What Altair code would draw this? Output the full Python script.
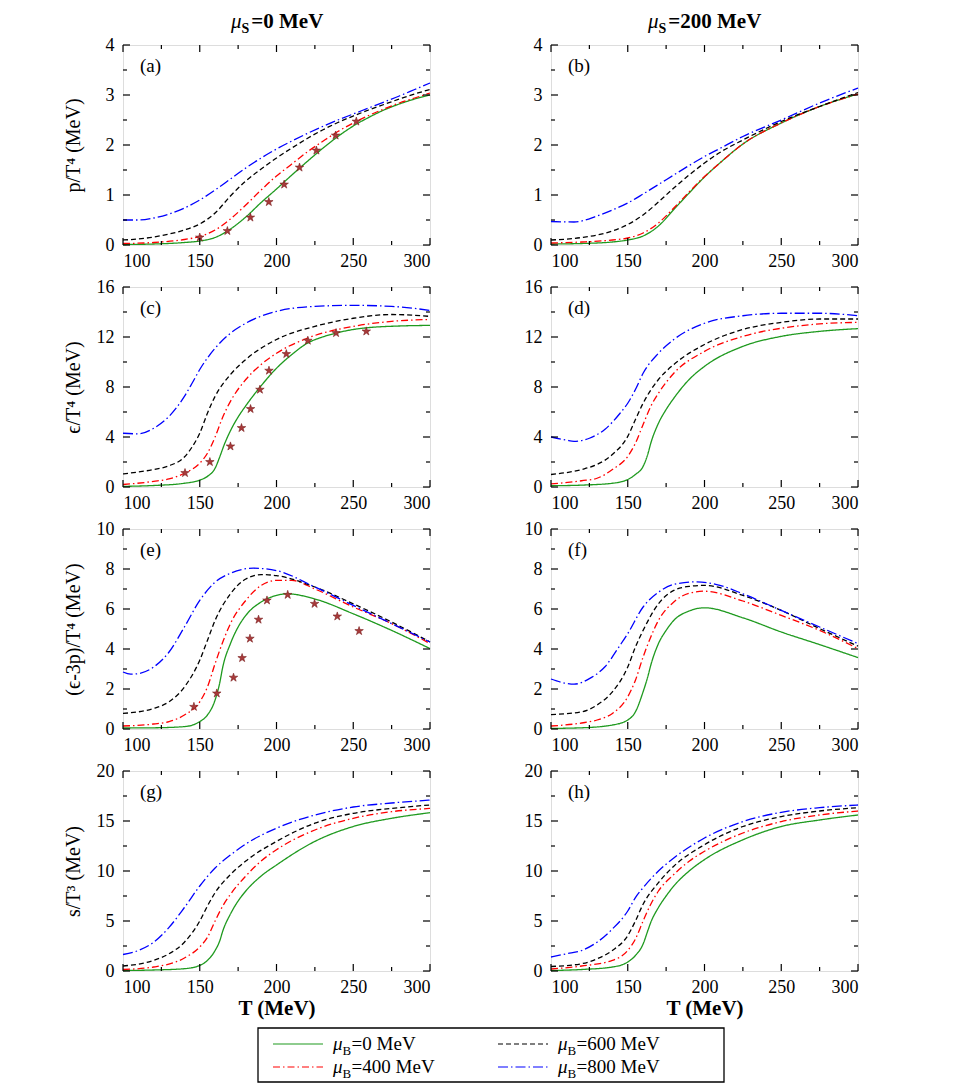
import altair as alt
import pandas as pd

SERIF = "Liberation Serif, Times New Roman, Times, serif"

# ---------------- series definitions ----------------
SERIES = ["0", "400", "600", "800"]           # mu_B values (MeV)
COLORS = ["#1f9a1f", "#ff0000", "#000000", "#0000ff"]
DASHES = [[1, 0], [7, 3, 1.5, 3], [5, 3], [10, 3, 1.5, 3]]
MUS_VALUES = ["0", "200"]                      # mu_S values (MeV)

X_MAJOR = [100, 150, 200, 250, 300]
X_MINOR = [125, 175, 225, 275]

# ---------------- panel (a): p/T^4, mu_S = 0 ----------------
a0_T = [100, 120, 140, 150, 160, 170, 180, 190, 200, 210, 220, 230, 240, 250, 260, 270, 280, 290, 300]
a0_v = [0.01, 0.02, 0.05, 0.08, 0.15, 0.32, 0.56, 0.85, 1.12, 1.40, 1.67, 1.93, 2.17, 2.38, 2.55, 2.70, 2.82, 2.92, 3.00]
a400_T = [100, 120, 140, 150, 160, 170, 180, 190, 200, 210, 220, 230, 240, 250, 260, 270, 280, 290, 300]
a400_v = [0.03, 0.05, 0.11, 0.17, 0.30, 0.52, 0.80, 1.10, 1.38, 1.62, 1.86, 2.07, 2.27, 2.44, 2.59, 2.72, 2.84, 2.94, 3.04]
a600_T = [100, 110, 120, 130, 140, 150, 160, 170, 180, 190, 200, 210, 220, 230, 240, 250, 260, 270, 280, 290, 300]
a600_v = [0.10, 0.12, 0.16, 0.22, 0.30, 0.42, 0.64, 0.98, 1.28, 1.52, 1.74, 1.94, 2.13, 2.30, 2.45, 2.58, 2.70, 2.81, 2.92, 3.02, 3.11]
a800_T = [100, 110, 120, 130, 140, 150, 160, 170, 180, 190, 200, 210, 220, 230, 240, 250, 260, 270, 280, 290, 300]
a800_v = [0.50, 0.50, 0.54, 0.62, 0.74, 0.90, 1.10, 1.32, 1.54, 1.74, 1.92, 2.08, 2.23, 2.37, 2.50, 2.62, 2.74, 2.86, 2.98, 3.11, 3.24]
a_star_T = [150, 168, 183, 195, 205, 215, 226, 238.5, 252]
a_star_v = [0.15, 0.28, 0.55, 0.86, 1.21, 1.55, 1.89, 2.19, 2.47]

# ---------------- panel (b): p/T^4, mu_S = 200 ----------------
b0_T = [100, 120, 140, 150, 160, 170, 180, 190, 200, 210, 225, 250, 275, 300]
b0_v = [0.02, 0.03, 0.06, 0.10, 0.18, 0.38, 0.71, 1.04, 1.36, 1.64, 2.02, 2.44, 2.77, 3.02]
b400_T = [100, 120, 140, 150, 160, 170, 180, 190, 200, 210, 225, 250, 275, 300]
b400_v = [0.04, 0.06, 0.10, 0.14, 0.24, 0.44, 0.74, 1.06, 1.37, 1.64, 2.02, 2.44, 2.77, 3.02]
b600_T = [100, 120, 140, 150, 160, 170, 180, 190, 200, 210, 225, 250, 275, 300]
b600_v = [0.10, 0.15, 0.28, 0.41, 0.60, 0.86, 1.14, 1.40, 1.64, 1.85, 2.10, 2.47, 2.77, 3.05]
b800_T = [100, 115, 130, 140, 150, 160, 170, 180, 190, 200, 210, 225, 250, 275, 300]
b800_v = [0.47, 0.46, 0.58, 0.70, 0.84, 1.02, 1.21, 1.40, 1.59, 1.77, 1.93, 2.17, 2.50, 2.84, 3.14]

# ---------------- panel (c): eps/T^4, mu_S = 0 ----------------
c0_T = [100, 120, 140, 150, 155, 160, 163, 166, 170, 175, 180, 190, 200, 210, 220, 230, 240, 250, 260, 280, 300]
c0_v = [0.05, 0.12, 0.30, 0.55, 0.85, 1.50, 2.40, 3.40, 4.50, 5.60, 6.50, 8.10, 9.50, 10.6, 11.5, 12.0, 12.35, 12.6, 12.75, 12.88, 12.93]
c400_T = [100, 120, 130, 140, 150, 155, 160, 165, 170, 180, 190, 200, 220, 250, 275, 300]
c400_v = [0.20, 0.45, 0.65, 1.10, 1.90, 2.70, 4.00, 5.60, 6.85, 8.60, 9.80, 10.7, 11.9, 12.85, 13.25, 13.4]
c600_T = [100, 110, 120, 130, 140, 145, 150, 155, 160, 170, 180, 200, 225, 250, 275, 300]
c600_v = [1.05, 1.20, 1.40, 1.70, 2.40, 3.20, 4.30, 5.90, 7.25, 9.00, 10.2, 11.8, 12.85, 13.5, 13.8, 13.65]
c800_T = [100, 110, 120, 130, 140, 145, 150, 160, 170, 180, 200, 225, 250, 275, 300]
c800_v = [4.30, 4.25, 4.70, 5.65, 7.25, 8.30, 9.40, 11.1, 12.3, 13.1, 14.05, 14.45, 14.53, 14.45, 14.13]
c_star_T = [140.4, 156.6, 170, 177.2, 183.1, 189.2, 195.1, 206.4, 220.4, 238.8, 258.5]
c_star_v = [1.12, 2.00, 3.25, 4.72, 6.24, 7.79, 9.31, 10.64, 11.71, 12.32, 12.45]

# ---------------- panel (d): eps/T^4, mu_S = 200 ----------------
d0_T = [100, 120, 140, 150, 155, 160, 163, 165, 170, 175, 180, 190, 200, 225, 250, 275, 300]
d0_v = [0.10, 0.15, 0.30, 0.60, 1.00, 1.65, 2.60, 3.50, 5.10, 6.20, 7.10, 8.60, 9.65, 11.25, 12.05, 12.45, 12.67]
d400_T = [100, 120, 130, 140, 150, 155, 160, 165, 170, 180, 200, 225, 250, 275, 300]
d400_v = [0.25, 0.50, 0.70, 1.40, 2.45, 3.50, 5.00, 6.45, 7.50, 9.10, 10.85, 12.05, 12.7, 13.05, 13.17]
d600_T = [100, 120, 130, 140, 150, 155, 160, 170, 180, 200, 225, 250, 275, 300]
d600_v = [1.00, 1.40, 1.80, 2.60, 4.05, 5.40, 6.70, 8.60, 9.80, 11.4, 12.6, 13.17, 13.44, 13.44]
d800_T = [100, 110, 115, 125, 135, 145, 150, 155, 160, 170, 180, 200, 225, 250, 275, 300]
d800_v = [4.00, 3.75, 3.65, 3.90, 4.60, 5.90, 6.70, 7.80, 9.10, 10.7, 11.8, 13.1, 13.7, 13.9, 13.9, 13.7]

# ---------------- panel (e): (eps-3p)/T^4, mu_S = 0 ----------------
e0_T = [100, 120, 140, 150, 155, 160, 163, 165, 170, 175, 180, 190, 200, 207, 225, 250, 275, 300]
e0_v = [0.05, 0.06, 0.12, 0.37, 0.70, 1.45, 2.30, 3.10, 4.27, 5.10, 5.68, 6.35, 6.68, 6.76, 6.50, 5.76, 4.93, 4.02]
e400_T = [100, 120, 130, 140, 150, 155, 160, 165, 170, 180, 190, 200, 210, 225, 250, 275, 300]
e400_v = [0.15, 0.25, 0.37, 0.70, 1.36, 2.10, 3.27, 4.35, 5.27, 6.43, 7.18, 7.43, 7.43, 7.00, 6.10, 5.27, 4.27]
e600_T = [100, 120, 130, 140, 150, 155, 160, 170, 180, 190, 200, 225, 250, 275, 300]
e600_v = [0.78, 1.03, 1.36, 2.10, 3.44, 4.43, 5.43, 6.76, 7.50, 7.72, 7.67, 7.10, 6.26, 5.35, 4.35]
e800_T = [100, 105, 110, 120, 130, 140, 150, 160, 170, 185, 200, 225, 250, 275, 300]
e800_v = [2.85, 2.74, 2.77, 3.10, 3.85, 5.10, 6.43, 7.34, 7.79, 8.04, 7.92, 7.10, 6.18, 5.27, 4.35]
e_star_T = [146.2, 161.1, 172, 177.6, 182.7, 188.3, 193.8, 207.3, 224.8, 239.6, 253.8]
e_star_v = [1.11, 1.78, 2.57, 3.55, 4.52, 5.47, 6.43, 6.71, 6.26, 5.63, 4.90]

# ---------------- panel (f): (eps-3p)/T^4, mu_S = 200 ----------------
f0_T = [100, 120, 140, 150, 155, 160, 163, 165, 170, 175, 180, 190, 200, 225, 250, 275, 300]
f0_v = [0.03, 0.06, 0.20, 0.45, 0.86, 1.86, 2.60, 3.19, 4.27, 4.93, 5.43, 5.90, 6.06, 5.56, 4.85, 4.22, 3.57]
f400_T = [100, 120, 130, 140, 150, 155, 160, 165, 170, 180, 190, 200, 225, 250, 275, 300]
f400_v = [0.15, 0.30, 0.45, 0.78, 1.61, 2.44, 3.60, 4.60, 5.43, 6.35, 6.79, 6.89, 6.40, 5.68, 4.93, 4.02]
f600_T = [100, 120, 130, 140, 150, 155, 160, 170, 180, 190, 200, 225, 250, 275, 300]
f600_v = [0.72, 0.86, 1.20, 1.86, 3.10, 4.10, 4.93, 6.26, 6.93, 7.13, 7.18, 6.68, 5.93, 5.02, 4.14]
f800_T = [100, 110, 115, 125, 135, 145, 150, 160, 170, 180, 195, 210, 225, 250, 275, 300]
f800_v = [2.50, 2.28, 2.24, 2.52, 3.10, 4.19, 4.77, 6.10, 6.84, 7.23, 7.36, 7.18, 6.76, 5.93, 5.10, 4.27]

# ---------------- panel (g): s/T^3, mu_S = 0 ----------------
g0_T = [100, 120, 140, 150, 155, 160, 163, 165, 170, 175, 180, 190, 200, 225, 250, 275, 300]
g0_v = [0.05, 0.10, 0.23, 0.56, 1.06, 2.05, 3.00, 4.00, 5.70, 7.00, 8.00, 9.50, 10.6, 12.96, 14.45, 15.27, 15.83]
g400_T = [100, 120, 140, 150, 155, 160, 165, 170, 180, 190, 200, 225, 250, 275, 300]
g400_v = [0.15, 0.40, 1.30, 2.40, 3.37, 5.00, 6.50, 7.67, 9.50, 11.0, 12.13, 14.1, 15.27, 15.93, 16.26]
g600_T = [100, 120, 130, 140, 150, 155, 160, 170, 180, 200, 225, 250, 275, 300]
g600_v = [0.50, 1.06, 1.72, 2.88, 5.00, 6.50, 7.83, 9.65, 11.0, 12.96, 14.78, 15.77, 16.26, 16.6]
g800_T = [100, 110, 120, 130, 140, 150, 160, 170, 180, 200, 225, 250, 275, 300]
g800_v = [1.65, 2.05, 2.88, 4.36, 6.35, 8.50, 10.3, 11.6, 12.7, 14.28, 15.6, 16.4, 16.8, 17.09]

# ---------------- panel (h): s/T^3, mu_S = 200 ----------------
h0_T = [100, 120, 140, 150, 155, 160, 163, 165, 170, 175, 180, 190, 200, 225, 250, 275, 300]
h0_v = [0.05, 0.15, 0.40, 0.90, 1.55, 2.70, 4.00, 4.86, 6.35, 7.50, 8.50, 10.0, 11.14, 13.12, 14.45, 15.1, 15.6]
h400_T = [100, 120, 140, 150, 155, 160, 165, 170, 180, 190, 200, 225, 250, 275, 300]
h400_v = [0.20, 0.50, 1.06, 2.05, 3.20, 5.00, 6.68, 8.00, 9.65, 10.98, 11.97, 13.8, 14.94, 15.6, 16.0]
h600_T = [100, 120, 130, 140, 150, 155, 160, 170, 180, 200, 225, 250, 275, 300]
h600_v = [0.45, 0.73, 1.22, 2.05, 3.54, 5.00, 6.68, 8.83, 10.48, 12.63, 14.45, 15.44, 16.0, 16.33]
h800_T = [100, 110, 120, 130, 140, 150, 155, 160, 170, 180, 200, 225, 250, 275, 300]
h800_v = [1.40, 1.72, 2.05, 2.88, 4.20, 6.00, 7.34, 8.33, 10.0, 11.3, 13.3, 14.94, 15.87, 16.33, 16.6]

# ---------------- axis tick values ----------------
P_MAJOR, P_MINOR = [0, 1, 2, 3, 4], [0.5, 1.5, 2.5, 3.5]
E_MAJOR, E_MINOR = [0, 4, 8, 12, 16], [2, 6, 10, 14]
I_MAJOR, I_MINOR = [0, 2, 4, 6, 8, 10], [1, 3, 5, 7, 9]
S_MAJOR, S_MINOR = [0, 5, 10, 15, 20], [2.5, 7.5, 12.5, 17.5]

W, H = 307, 200
STAR = ("M0,-1L0.2245,-0.309L0.951,-0.309L0.363,0.118L0.588,0.809L0,0.382"
        "L-0.588,0.809L-0.363,0.118L-0.951,-0.309L-0.2245,-0.309Z")
ONE = pd.DataFrame({"k": [0]})


def curves_df(pairs):
    rows = []
    for key, (ts, vs) in zip(SERIES, pairs):
        for t, v in zip(ts, vs):
            rows.append({"T": t, "v": v, "s": key})
    return pd.DataFrame(rows)


def mu_label(sub, value, x0, y0, size, weight, subsize):
    """Text 'mu_sub=value MeV' made of three text marks."""
    base = alt.Chart(ONE)
    mu = base.mark_text(text="μ", font=SERIF, fontStyle="italic", fontSize=size,
                        align="left", baseline="alphabetic", color="black"
                        ).encode(x=alt.value(x0), y=alt.value(y0))
    sb = base.mark_text(text=sub, font=SERIF, fontSize=subsize, fontWeight=weight,
                        align="left", baseline="alphabetic", color="black"
                        ).encode(x=alt.value(x0 + size * 0.5), y=alt.value(y0 + size * 0.25))
    rest = base.mark_text(text=f"={value} MeV", font=SERIF, fontSize=size, fontWeight=weight,
                          align="left", baseline="alphabetic", color="black"
                          ).encode(x=alt.value(x0 + size * 0.5 + subsize * 0.7), y=alt.value(y0))
    return [mu, sb, rest]


def panel(letter, pairs, ymax, ymajor, yminor, ytitle=None, xtitle=None,
          stars=None, coltitle=None, legend=False):
    xs = alt.Scale(domain=[100, 300], nice=False, zero=False, padding=0)
    ys = alt.Scale(domain=[0, ymax], nice=False, zero=False, padding=0)
    xax = alt.Axis(values=X_MAJOR, format="d", ticks=False, domain=False, grid=False,
                   labelPadding=7, labelFontSize=18, labelFont=SERIF, labelColor="black",
                   title=xtitle, titleFont=SERIF, titleFontSize=21, titleFontWeight="bold",
                   titleColor="black", titlePadding=1)
    yax = alt.Axis(values=ymajor, format="d", ticks=False, domain=False, grid=False,
                   labelPadding=9, labelFontSize=18, labelFont=SERIF, labelColor="black",
                   title=ytitle, titleFont=SERIF, titleFontSize=20, titleFontWeight="normal",
                   titleColor="black", titleX=-50, titleY=H / 2, titleBaseline="middle",
                   titleAlign="center", titleAngle=270)

    def X(f):
        return alt.X(f"{f}:Q", scale=xs, axis=xax)

    def Y(f):
        return alt.Y(f"{f}:Q", scale=ys, axis=yax)

    layers = []
    lines = alt.Chart(curves_df(pairs)).mark_line(strokeWidth=1.3, interpolate="monotone").encode(
        x=X("T"), y=Y("v"),
        color=alt.Color("s:N", scale=alt.Scale(domain=SERIES, range=COLORS), legend=None),
        strokeDash=alt.StrokeDash("s:N", scale=alt.Scale(domain=SERIES, range=DASHES), legend=None),
    )
    layers.append(lines)

    if stars is not None:
        sdf = pd.DataFrame({"T": stars[0], "v": stars[1]})
        layers.append(alt.Chart(sdf).mark_point(shape=STAR, filled=True, size=80, fill="#a83a3a",
                                                 stroke="#7a1f1f", strokeWidth=0.6, opacity=1)
                      .encode(x=X("T"), y=Y("v")))

    # inward ticks on all four sides
    xmaj = alt.Chart(pd.DataFrame({"t": X_MAJOR}))
    xmin = alt.Chart(pd.DataFrame({"t": X_MINOR}))
    ymaj = alt.Chart(pd.DataFrame({"t": ymajor}))
    ymin = alt.Chart(pd.DataFrame({"t": yminor}))
    tk = dict(color="black", strokeWidth=1.2)
    layers += [
        xmaj.mark_rule(**tk).encode(x=X("t"), y=alt.value(H), y2=alt.value(H - 7)),
        xmaj.mark_rule(**tk).encode(x=X("t"), y=alt.value(0), y2=alt.value(7)),
        xmin.mark_rule(**tk).encode(x=X("t"), y=alt.value(H), y2=alt.value(H - 4)),
        xmin.mark_rule(**tk).encode(x=X("t"), y=alt.value(0), y2=alt.value(4)),
        ymaj.mark_rule(**tk).encode(y=Y("t"), x=alt.value(0), x2=alt.value(7)),
        ymaj.mark_rule(**tk).encode(y=Y("t"), x=alt.value(W - 7), x2=alt.value(W)),
        ymin.mark_rule(**tk).encode(y=Y("t"), x=alt.value(0), x2=alt.value(4)),
        ymin.mark_rule(**tk).encode(y=Y("t"), x=alt.value(W - 4), x2=alt.value(W)),
    ]

    layers.append(alt.Chart(ONE).mark_text(text=f"({letter})", font=SERIF, fontSize=19,
                                           align="left", baseline="middle", color="black")
                  .encode(x=alt.value(17), y=alt.value(21)))

    if coltitle is not None:
        start = 108 if coltitle == "0" else 97
        layers += mu_label("S", coltitle, start, -17, 21, "bold", 14)

    if legend:
        layers.append(alt.Chart(ONE).mark_rect(fillOpacity=0, stroke="black", strokeWidth=1.3)
                      .encode(x=alt.value(135), x2=alt.value(601), y=alt.value(257), y2=alt.value(311)))
        for i, (key, col, dash) in enumerate(zip(SERIES, COLORS, DASHES)):
            cx = 150 if i < 2 else 375
            cy = 273 if i % 2 == 0 else 296
            layers.append(alt.Chart(ONE).mark_rule(color=col, strokeDash=dash, strokeWidth=1.2)
                          .encode(x=alt.value(cx), x2=alt.value(cx + 50), y=alt.value(cy)))
            layers += mu_label("B", key, cx + 60, cy + 6, 19, "normal", 13)

    return alt.layer(*layers).properties(width=W, height=H)


panels = [
    panel("a", [(a0_T, a0_v), (a400_T, a400_v), (a600_T, a600_v), (a800_T, a800_v)], 4,
          P_MAJOR, P_MINOR, ytitle="p/T⁴ (MeV)", stars=(a_star_T, a_star_v), coltitle=MUS_VALUES[0]),
    panel("b", [(b0_T, b0_v), (b400_T, b400_v), (b600_T, b600_v), (b800_T, b800_v)], 4,
          P_MAJOR, P_MINOR, coltitle=MUS_VALUES[1]),
    panel("c", [(c0_T, c0_v), (c400_T, c400_v), (c600_T, c600_v), (c800_T, c800_v)], 16,
          E_MAJOR, E_MINOR, ytitle="ϵ/T⁴ (MeV)", stars=(c_star_T, c_star_v)),
    panel("d", [(d0_T, d0_v), (d400_T, d400_v), (d600_T, d600_v), (d800_T, d800_v)], 16,
          E_MAJOR, E_MINOR),
    panel("e", [(e0_T, e0_v), (e400_T, e400_v), (e600_T, e600_v), (e800_T, e800_v)], 10,
          I_MAJOR, I_MINOR, ytitle="(ϵ-3p)/T⁴ (MeV)", stars=(e_star_T, e_star_v)),
    panel("f", [(f0_T, f0_v), (f400_T, f400_v), (f600_T, f600_v), (f800_T, f800_v)], 10,
          I_MAJOR, I_MINOR),
    panel("g", [(g0_T, g0_v), (g400_T, g400_v), (g600_T, g600_v), (g800_T, g800_v)], 20,
          S_MAJOR, S_MINOR, ytitle="s/T³ (MeV)", xtitle="T (MeV)", legend=True),
    panel("h", [(h0_T, h0_v), (h400_T, h400_v), (h600_T, h600_v), (h800_T, h800_v)], 20,
          S_MAJOR, S_MINOR, xtitle="T (MeV)"),
]

chart = alt.concat(*panels, columns=2, spacing={"row": 42, "column": 121}, bounds="flush").properties(
    padding={"left": 54, "top": 2, "right": 10, "bottom": 5}
).configure_view(stroke="black", strokeWidth=1.6).configure(background="white", font=SERIF)

chart.save("out.html", embed_options={"renderer": "svg", "actions": False})
